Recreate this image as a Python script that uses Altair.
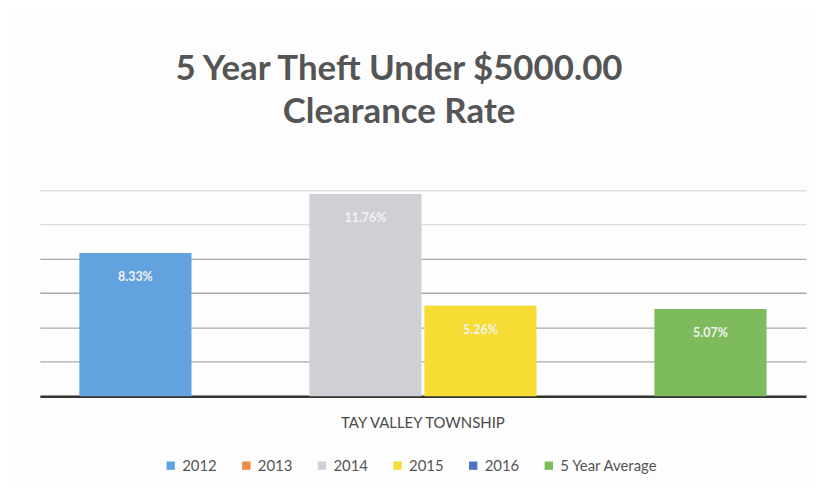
import altair as alt
import pandas as pd

township = ["TAY VALLEY TOWNSHIP"] * 6
series = ["2012", "2013", "2014", "2015", "2016", "5 Year Average"]
values = [8.33, 0, 11.76, 5.26, 0, 5.07]
colors = ["#62a2df", "#ee8a44", "#cfd0d5", "#f6dc33", "#4a74c2", "#7dbb5c"]

df = pd.DataFrame({"township": township, "series": series, "value": values})

FONT = "Lato"

base = alt.Chart(df).encode(
    x=alt.X(
        "township:N",
        title=None,
        scale=alt.Scale(paddingInner=0, paddingOuter=0.0575),
        axis=alt.Axis(
            labelAngle=0, labelFontSize=15, labelColor="#4a4a4a", labelFont=FONT,
            labelPadding=19, ticks=False, domainColor="#333333", domainWidth=2.5,
        ),
    ),
    xOffset=alt.XOffset("series:N", sort=series,
                        scale=alt.Scale(paddingInner=0.025, paddingOuter=0)),
    y=alt.Y(
        "value:Q",
        title=None,
        scale=alt.Scale(domain=[0, 14]),
        axis=alt.Axis(
            values=[2, 4, 6, 8, 10, 12], labels=False, ticks=False, domain=False,
            gridColor={"condition": {"test": "datum.value >= 10", "value": "#dddddd"},
                       "value": "#a9a9a9"},
            gridWidth=1.3,
        ),
    ),
)

bars = base.mark_bar().encode(
    color=alt.Color(
        "series:N",
        sort=series,
        scale=alt.Scale(domain=series, range=colors),
        legend=alt.Legend(
            title=None, orient="none", direction="horizontal",
            legendX=124, legendY=304,
            symbolType="square", symbolSize=70, symbolStrokeWidth=0,
            labelFontSize=15, labelColor="#555555", labelFont=FONT,
            columnPadding=22, symbolOffset=0, padding=0,
        ),
    )
)

labels = base.mark_text(
    baseline="middle", dy=24, color="#f2f2f2", fontSize=12.5, fontWeight="bold", font=FONT
).encode(text="label:N").transform_filter("datum.value > 0").transform_calculate(
    label="format(datum.value, '.2f') + '%'"
)

chart = (
    alt.layer(bars, labels)
    .properties(
        width=770,
        height=242,
        title=alt.TitleParams(
            ["5 Year Theft Under $5000.00", "Clearance Rate"],
            fontSize=35, font=FONT, fontWeight="bold", color="#555555",
            lineHeight=43, anchor="middle", dx=-24, offset=26,
        ),
        padding={"left": 32, "top": 43, "right": 8, "bottom": 8},
        background="#fdfdfd",
    )
    .configure_view(stroke=None)
)

chart.save("out.html", embed_options={"renderer": "svg", "actions": False})
